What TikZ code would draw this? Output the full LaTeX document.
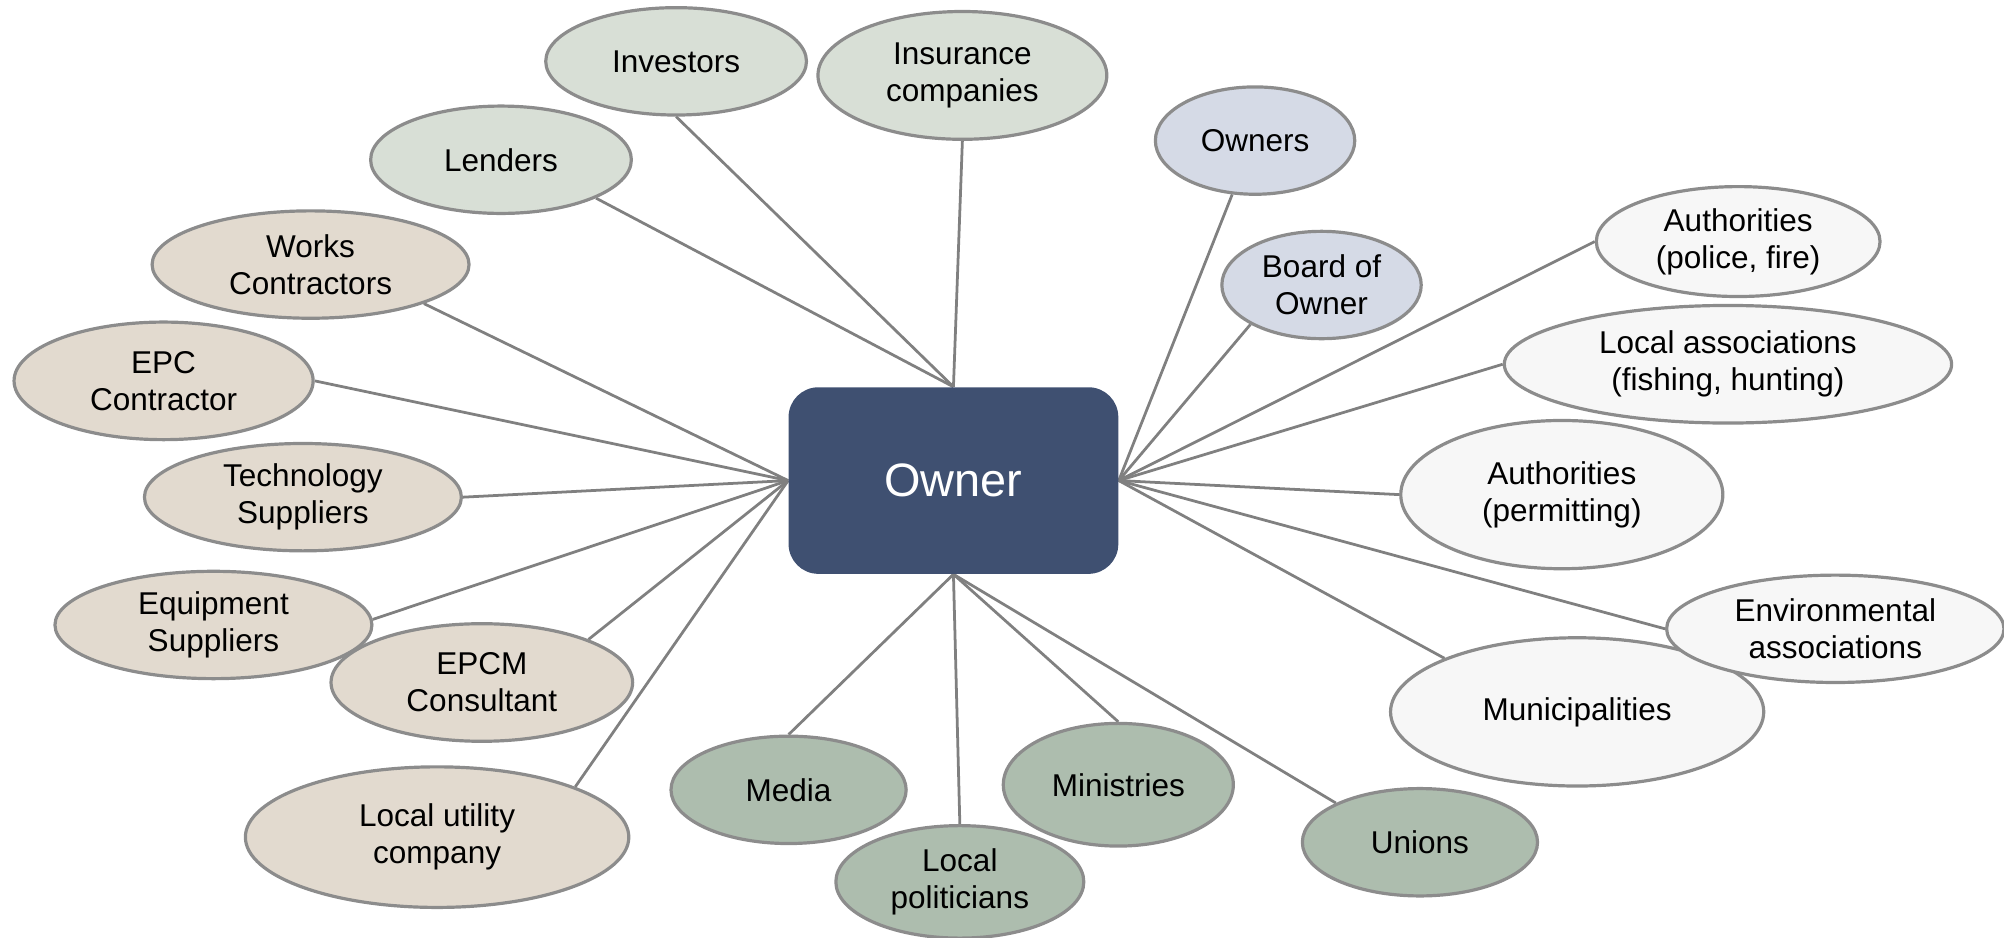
\documentclass[tikz,border=0pt]{standalone}
\usepackage{fontspec}
\setmainfont{Liberation Sans}
\usetikzlibrary{shapes.geometric,backgrounds}
\definecolor{ownerfill}{HTML}{3F5071}
\definecolor{topfill}{HTML}{D8DFD6}
\definecolor{leftfill}{HTML}{E2DACF}
\definecolor{bluefill}{HTML}{D5DAE6}
\definecolor{rightfill}{HTML}{F7F7F7}
\definecolor{botfill}{HTML}{ADBDAE}
\definecolor{edgegray}{HTML}{8C8C8C}
\definecolor{linegray}{HTML}{808080}
\begin{document}
\begin{tikzpicture}[x=0.6pt,y=-0.6pt,
  stake/.style 2 args={ellipse, draw=edgegray, line width=1.5pt, inner sep=0pt,
    minimum width={2*#1*0.6pt}, minimum height={2*#2*0.6pt}, align=center,
    font=\fontsize{14.8}{17.4}\selectfont},
  topg/.style={fill=topfill},
  leftg/.style={fill=leftfill},
  blueg/.style={fill=bluefill},
  rightg/.style={fill=rightfill},
  botg/.style={fill=botfill},
  conn/.style={draw=linegray, line width=1.3pt},
  ownerbox/.style={rectangle, rounded corners=14pt, fill=ownerfill, text=white,
    minimum width=154.8pt, minimum height=87.6pt, inner sep=0pt,
    font=\fontsize{22}{26}\selectfont}]
\useasboundingbox (0,0) rectangle (1568,733.2);
\node[ownerbox] (owner) at (746,376) {Owner};
% top group
\node[stake={102}{42}, topg] (inv) at (529,48) {Investors};
\node[stake={113}{50}, topg] (ins) at (753,59) {Insurance\\companies};
\node[stake={102}{42}, topg] (len) at (392,125) {Lenders};
% left group
\node[stake={124}{42}, leftg] (works) at (243,207) {Works\\Contractors};
\node[stake={117}{46}, leftg] (epc) at (128,298) {EPC\\Contractor};
\node[stake={124}{42}, leftg] (tech) at (237,389) {Technology\\Suppliers};
\node[stake={124}{42}, leftg] (equip) at (167,489) {Equipment\\Suppliers};
\node[stake={118}{46}, leftg] (epcm) at (377,534) {EPCM\\Consultant};
\node[stake={150}{55}, leftg] (util) at (342,655) {Local utility\\company};
% bottom group
\node[stake={92}{42}, botg] (media) at (617,618) {Media};
\node[stake={97}{44}, botg] (pol) at (751,690) {Local\\politicians};
\node[stake={90}{48}, botg] (min) at (875,614) {Ministries};
\node[stake={92}{42}, botg] (uni) at (1111,659) {Unions};
% right group
\node[stake={146}{58}, rightg] (mun) at (1234,557) {Municipalities};
\node[stake={132}{42}, rightg] (env) at (1436,492) {Environmental\\associations};
\node[stake={126}{58}, rightg] (perm) at (1222,387) {Authorities\\(permitting)};
\node[stake={175}{46}, rightg] (assoc) at (1352,285) {Local associations\\(fishing, hunting)};
\node[stake={111}{43}, rightg] (police) at (1360,189) {Authorities\\(police, fire)};
% owners
\node[stake={78}{42}, blueg] (owners) at (982,110) {Owners};
\node[stake={78}{42}, blueg] (board) at (1034,223) {Board of\\Owner};
\begin{pgfonlayer}{background}
\draw[conn] (inv.south) -- (owner.north);
\draw[conn] (ins.south) -- (owner.north);
\draw[conn] (len.-22) -- (owner.north);
\draw[conn] (works.-19) -- (owner.west);
\draw[conn] (epc.east) -- (owner.west);
\draw[conn] (tech.east) -- (owner.west);
\draw[conn] (equip.2) -- (owner.west);
\draw[conn] (epcm.22) -- (owner.west);
\draw[conn] (util.20) -- (owner.west);
\draw[conn] (media.north) -- (owner.south);
\draw[conn] (pol.north) -- (owner.south);
\draw[conn] (min.north) -- (owner.south);
\draw[conn] (uni.155) -- (owner.south);
\draw[conn] (mun.158) -- (owner.east);
\draw[conn] (env.180) -- (owner.east);
\draw[conn] (perm.west) -- (owner.east);
\draw[conn] (assoc.west) -- (owner.east);
\draw[conn] (police.west) -- (owner.east);
\draw[conn] (board.209) -- (owner.east);
\draw[conn] (owners.247) -- (owner.east);
\end{pgfonlayer}
\end{tikzpicture}
\end{document}
